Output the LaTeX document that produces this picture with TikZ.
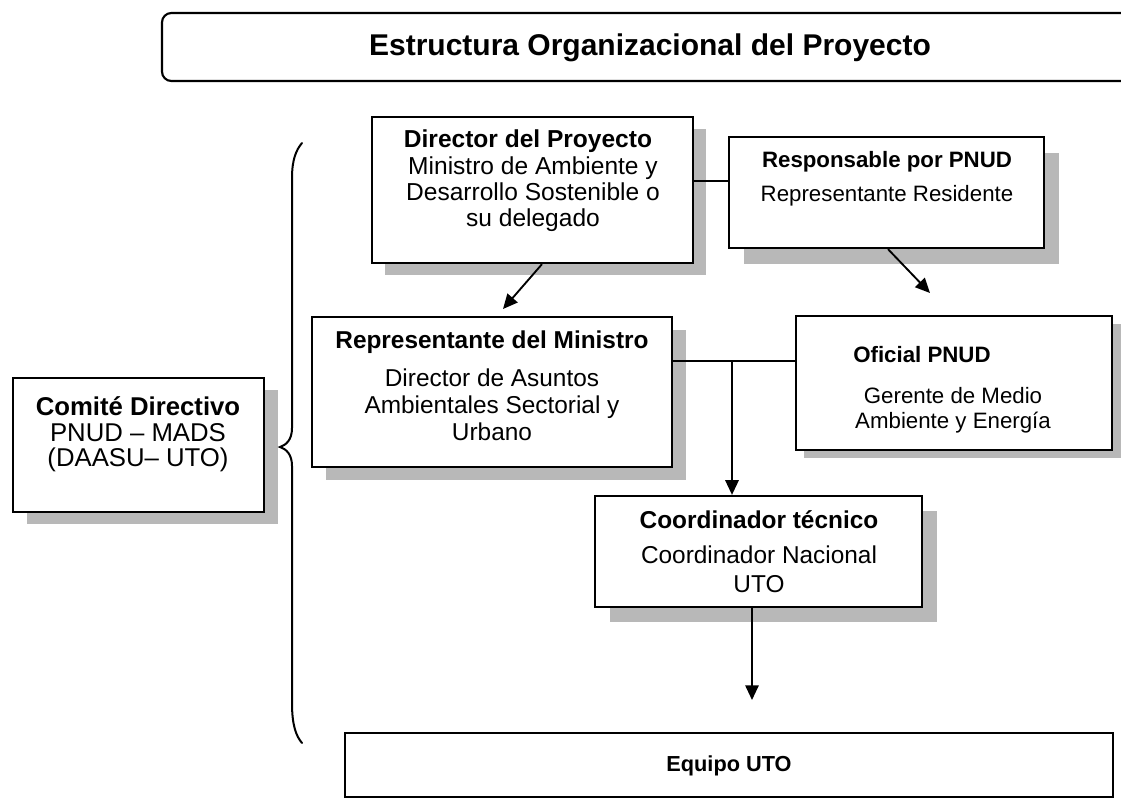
\documentclass[tikz,border=0pt]{standalone}
\usepackage{fontspec}
\setmainfont{Liberation Sans}
\newfontfamily\widefont{Liberation Sans}
\usetikzlibrary{arrows.meta,calc,fit}
\newcommand\fntDir{\widefont\fontsize{18.4pt}{21pt}\selectfont}
\newcommand\fntRep{\widefont\fontsize{18.3pt}{21pt}\selectfont}
\newcommand\fntCom{\widefont\fontsize{19.3pt}{22pt}\selectfont}
\newcommand\fntSmall{\widefont\fontsize{16.7pt}{19pt}\selectfont}
\newcommand\fntEq{\widefont\fontsize{16.3pt}{19pt}\selectfont}
\begin{document}
\begin{tikzpicture}[x=0.75pt,y=-0.75pt,
  box/.style={draw=black,line width=1.7pt,fill=white,inner sep=0pt},
  shd/.style={fill=black!28,draw=none},
  conn/.style={line width=1.4pt},
  arr/.style={line width=1.4pt,-{Triangle[length=11pt,width=10pt]}},
  brace/.style={line width=1.5pt,line cap=round},
  txt/.style={anchor=base,inner sep=0pt}]
\useasboundingbox (0,0) rectangle (1121,801);
\clip (0,0) rectangle (1121,801);
\fill[white] (0,0) rectangle (1121,801);

% title
\node[box,line width=1.6pt,rounded corners=7pt,fit={(162,13) (1140,81)}] (title) {};
\node[txt,font=\fontsize{22.5pt}{26pt}\selectfont\bfseries] (ttl) at (650,55) {Estructura Organizacional del Proyecto};

% shadows
\fill[shd] (385,129) rectangle (706,275);
\fill[shd] (744,153) rectangle (1059,264);
\fill[shd] (326,330) rectangle (686,480);
\fill[shd] (804,324) rectangle (1121,458);
\fill[shd] (610,511) rectangle (937,622);
\fill[shd] (27,390) rectangle (278,524);

% boxes
\node[box,fit={(372,117) (693,263)}] (dir) {};
\node[box,fit={(729,137) (1044,248)}] (resp) {};
\node[box,fit={(312,317) (672,467)}] (rep) {};
\node[box,fit={(796,316) (1112,450)}] (ofi) {};
\node[box,fit={(595,496) (922,607)}] (coord) {};
\node[box,fit={(13,378) (264,512)}] (com) {};
\node[box,fit={(345,733) (1113,797)}] (equ) {};

% texts
\node[txt,font=\fntDir\bfseries] (d0) at (528,147) {Director del Proyecto};
\node[txt,font=\fntDir] (d1) at (533,174) {Ministro de Ambiente y};
\node[txt,font=\fntDir] (d2) at (533,200) {Desarrollo Sostenible o};
\node[txt,font=\fntDir] (d3) at (533,226) {su delegado};

\node[txt,font=\fntSmall\bfseries] (r0) at (887,167) {Responsable por PNUD};
\node[txt,font=\fntSmall] (r1) at (887,201) {Representante Residente};

\node[txt,font=\fntRep\bfseries] (m0) at (492,348) {Representante del Ministro};
\node[txt,font=\fntRep] (m1) at (492,386) {Director de Asuntos};
\node[txt,font=\fntRep] (m2) at (492,413) {Ambientales Sectorial y};
\node[txt,font=\fntRep] (m3) at (492,440) {Urbano};

\node[txt,anchor=base west,font=\fntSmall\bfseries] (o0) at (853,362) {Oficial PNUD};
\node[txt,font=\fntSmall] (o1) at (953,403) {Gerente de Medio};
\node[txt,font=\fntSmall] (o2) at (953,428) {Ambiente y Energía};

\node[txt,font=\fntRep\bfseries] (c0) at (759,528) {Coordinador técnico};
\node[txt,font=\fntRep] (c1) at (759,563) {Coordinador Nacional};
\node[txt,font=\fntRep] (c2) at (759,592) {UTO};

\node[txt,font=\fntCom\bfseries] (k0) at (138,415) {Comité Directivo};
\node[txt,font=\fntCom] (k1) at (138,441) {PNUD – MADS};
\node[txt,font=\fntCom] (k2) at (138,466) {(DAASU– UTO)};

\node[txt,font=\fntEq\bfseries] (e0) at (729,771) {Equipo UTO};

% connectors
\coordinate (k) at (711,181);
\coordinate (j) at (732,361);
\coordinate (t1) at (503,309);
\coordinate (t2) at (930,293);
\coordinate (t3) at (752,700);
\draw[conn] (k -| dir.east) -- (k -| resp.west);
\draw[conn] (j -| rep.east) -- (j -| ofi.west);
\draw[arr] (j) -- (j |- coord.north);
\draw[arr] ($(dir.south)+(9.5,0)$) -- (t1);
\draw[arr] ($(resp.south)+(1.5,0)$) -- (t2);
\draw[arr] (t3 |- coord.south) -- (t3);

% brace
\draw[brace] (302,143) .. controls (296,150) and (292,160) .. (292,178) -- (292,428)
  .. controls (292,440) and (286,445) .. (280,447)
  .. controls (286,449) and (292,454) .. (292,466) -- (292,703)
  .. controls (292,725) and (296,736) .. (302,743);
\end{tikzpicture}
\end{document}
